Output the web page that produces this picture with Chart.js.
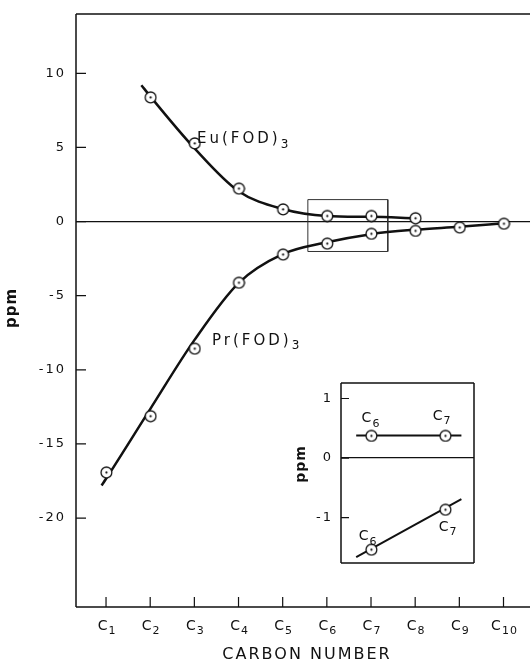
<!DOCTYPE html>
<html>
<head>
<meta charset="utf-8">
<script src="https://cdn.jsdelivr.net/npm/chart.js@4.4.0/dist/chart.umd.min.js"></script>
<style>
  html, body { margin: 0; padding: 0; background: #fff; }
  #wrap { position: relative; width: 530px; height: 662px; overflow: hidden; }
  #main { position: absolute; left: 0; top: 0; }
  #inset { position: absolute; left: 290px; top: 375px; }
</style>
</head>
<body>
<div id="wrap">
  <canvas id="main" width="530" height="662"></canvas>
  <canvas id="inset" width="190" height="195"></canvas>
</div>
<script>
// carbon positions and their tick labels (C1..C10)
const carbons = [1, 2, 3, 4, 5, 6, 7, 8, 9, 10];
const carbonSubs = ['1', '2', '3', '4', '5', '6', '7', '8', '9', '10'];
const yTicks = [-20, -15, -10, -5, 0, 5, 10];

// measured shifts, Eu(FOD)3
const euX = [2, 3, 4, 5, 6, 7, 8];
const euY = [8.4, 5.3, 2.25, 0.85, 0.4, 0.4, 0.25];
// measured shifts, Pr(FOD)3
const prX = carbons;
const prY = [-16.9, -13.1, -8.55, -4.1, -2.2, -1.46, -0.8, -0.6, -0.38, -0.12];

// drawn fit curves
const euCurveX = [1.8, 2, 3, 4, 5, 6, 7, 8];
const euCurveY = [9.2, 8.45, 4.95, 2.05, 0.85, 0.38, 0.32, 0.22];
const prCurveX = [0.9, 1, 2, 3, 4, 5, 6, 7, 8, 9, 10];
const prCurveY = [-17.8, -17.35, -12.65, -8.0, -4.15, -2.2, -1.4, -0.85, -0.55, -0.35, -0.12];

// rectangle that marks the region shown in the inset
const boxX = [5.57, 7.38, 7.38, 5.57, 5.57];
const boxY = [1.48, 1.48, -2.02, -2.02, 1.48];

// inset (C6, C7 enlarged)
const insetX = [6, 7];
const insetEuY = [0.38, 0.38];
const insetPrY = [-1.53, -0.86];
const insetEuLineX = [5.8, 7.22];
const insetEuLineY = [0.38, 0.38];
const insetPrLineX = [5.8, 7.22];
const insetPrLineY = [-1.66, -0.69];
const insetTicks = [-1, 0, 1];

// text labels anchored in data units
const curveNotes = [
  { text: 'Eu(FOD)', sub: '3', x: 3.06, y: 5.3 },
  { text: 'Pr(FOD)', sub: '3', x: 3.40, y: -8.3 }
];
const insetNotes = [
  { sub: '6', x: 6.0, y: 0.6 },
  { sub: '7', x: 6.96, y: 0.64 },
  { sub: '6', x: 5.96, y: -1.38 },
  { sub: '7', x: 7.04, y: -1.22 }
];

const INK = '#111';
const FONT = '"DejaVu Sans"';

function xy(xs, ys) {
  return xs.map((x, i) => ({ x: x, y: ys[i] }));
}

// open circle with a dot in the middle
function ringDot(r) {
  const c = document.createElement('canvas');
  c.width = 2 * r + 4;
  c.height = 2 * r + 4;
  const g = c.getContext('2d');
  const m = r + 2;
  g.fillStyle = '#fff';
  g.beginPath(); g.arc(m, m, r, 0, Math.PI * 2); g.fill();
  g.lineWidth = 1.3; g.strokeStyle = INK; g.stroke();
  g.fillStyle = INK;
  g.beginPath(); g.arc(m, m, 1.1, 0, Math.PI * 2); g.fill();
  return c;
}
const marker = ringDot(5.4);

function subText(ctx, base, sub, x, y, size, align, spacing) {
  ctx.save();
  ctx.letterSpacing = spacing + 'px';
  ctx.fillStyle = INK;
  ctx.textAlign = 'left';
  ctx.textBaseline = 'alphabetic';
  ctx.font = size + 'px ' + FONT;
  const w1 = ctx.measureText(base).width;
  ctx.font = Math.round(size * 0.78) + 'px ' + FONT;
  const w2 = ctx.measureText(sub).width;
  const x0 = align === 'center' ? x - (w1 + w2) / 2 : x;
  ctx.font = size + 'px ' + FONT;
  ctx.fillText(base, x0, y);
  ctx.font = Math.round(size * 0.78) + 'px ' + FONT;
  ctx.fillText(sub, x0 + w1, y + size * 0.32);
  ctx.restore();
}

function frameLines(ctx, a, sides) {
  ctx.save();
  ctx.strokeStyle = INK;
  ctx.lineWidth = 1.5;
  ctx.beginPath();
  if (sides.top) { ctx.moveTo(a.left, a.top); ctx.lineTo(a.right, a.top); }
  if (sides.left) { ctx.moveTo(a.left, a.top); ctx.lineTo(a.left, a.bottom); }
  if (sides.bottom) { ctx.moveTo(a.left, a.bottom); ctx.lineTo(a.right, a.bottom); }
  if (sides.right) { ctx.moveTo(a.right, a.top); ctx.lineTo(a.right, a.bottom); }
  ctx.stroke();
  ctx.restore();
}

// keep the y axis from reserving room above/below the plot for its labels
function fixWidth(w) {
  return s => {
    s.width = w;
    s.paddingTop = 0;
    s.paddingBottom = 0;
  };
}

const tickSpacing = {
  id: 'tickSpacing',
  beforeDraw(chart) { chart.ctx.letterSpacing = '2px'; },
  afterDraw(chart) { chart.ctx.letterSpacing = '0px'; }
};

const mainDecor = {
  id: 'mainDecor',
  afterDraw(chart) {
    const ctx = chart.ctx;
    const a = chart.chartArea;
    const xs = chart.scales.x;
    const ys = chart.scales.y;
    frameLines(ctx, a, { top: true, left: true, bottom: true });

    // inward tick marks
    ctx.save();
    ctx.strokeStyle = INK;
    ctx.lineWidth = 1.2;
    ctx.beginPath();
    yTicks.forEach(v => {
      const py = ys.getPixelForValue(v);
      ctx.moveTo(a.left, py); ctx.lineTo(a.left + 10, py);
    });
    carbons.forEach(v => {
      const px = xs.getPixelForValue(v);
      ctx.moveTo(px, a.bottom); ctx.lineTo(px, a.bottom - 10);
    });
    ctx.stroke();
    ctx.restore();

    // C1..C10 labels
    carbons.forEach((v, i) => {
      subText(ctx, 'C', carbonSubs[i], xs.getPixelForValue(v) + 1, a.bottom + 23, 14, 'center', 1);
    });

    // curve labels
    curveNotes.forEach(n => {
      subText(ctx, n.text, n.sub, xs.getPixelForValue(n.x), ys.getPixelForValue(n.y), 15, 'left', 3);
    });

    // axis titles
    ctx.save();
    ctx.fillStyle = INK;
    ctx.letterSpacing = '2px';
    ctx.font = '16px ' + FONT;
    ctx.textAlign = 'center';
    ctx.textBaseline = 'alphabetic';
    ctx.fillText('CARBON NUMBER', (a.left + a.right) / 2 + 4, 659);
    ctx.translate(12, 308);
    ctx.rotate(-Math.PI / 2);
    ctx.letterSpacing = '1px';
    ctx.font = 'bold 15px ' + FONT;
    ctx.textBaseline = 'middle';
    ctx.fillText('ppm', 0, 0);
    ctx.restore();
  }
};

new Chart(document.getElementById('main'), {
  type: 'line',
  data: {
    datasets: [
      { data: xy(euX, euY), showLine: false, pointStyle: marker, pointRadius: 6 },
      { data: xy(prX, prY), showLine: false, pointStyle: marker, pointRadius: 6 },
      { data: xy(euCurveX, euCurveY), borderColor: INK, borderWidth: 2.5, pointRadius: 0, cubicInterpolationMode: 'monotone' },
      { data: xy(prCurveX, prCurveY), borderColor: INK, borderWidth: 2.5, pointRadius: 0, cubicInterpolationMode: 'monotone' },
      { data: xy(boxX, boxY), borderColor: '#333', borderWidth: 1, pointRadius: 0, tension: 0 }
    ]
  },
  options: {
    responsive: false,
    animation: false,
    layout: { autoPadding: false, padding: { top: 14, right: 0, bottom: 0, left: 0 } },
    plugins: { legend: { display: false }, tooltip: { enabled: false } },
    scales: {
      x: {
        type: 'linear', min: 0.32, max: 10.6,
        afterBuildTicks: s => { s.ticks = carbons.map(v => ({ value: v })); },
        afterFit: s => { s.height = 55; },
        ticks: { display: false },
        grid: { display: false },
        border: { display: false }
      },
      y: {
        type: 'linear', min: -26, max: 14,
        afterBuildTicks: s => { s.ticks = yTicks.map(v => ({ value: v })); },
        afterFit: fixWidth(76),
        ticks: { padding: 10, color: INK, font: { family: 'DejaVu Sans', size: 13 } },
        grid: {
          drawTicks: false,
          lineWidth: 1.2,
          color: c => (c.tick && c.tick.value === 0 ? INK : 'rgba(0,0,0,0)')
        },
        border: { display: false }
      }
    }
  },
  plugins: [tickSpacing, mainDecor]
});

const insetDecor = {
  id: 'insetDecor',
  afterDraw(chart) {
    const ctx = chart.ctx;
    const a = chart.chartArea;
    const xs = chart.scales.x;
    const ys = chart.scales.y;
    frameLines(ctx, a, { top: true, left: true, bottom: true, right: true });
    ctx.save();
    ctx.strokeStyle = INK;
    ctx.lineWidth = 1.2;
    ctx.beginPath();
    insetTicks.forEach(v => {
      const py = ys.getPixelForValue(v);
      ctx.moveTo(a.left, py); ctx.lineTo(a.left + 8, py);
    });
    ctx.stroke();
    ctx.restore();

    insetNotes.forEach(n => {
      subText(ctx, 'C', n.sub, xs.getPixelForValue(n.x), ys.getPixelForValue(n.y), 14, 'center', 1);
    });

    ctx.save();
    ctx.fillStyle = INK;
    ctx.letterSpacing = '1px';
    ctx.translate(11, 89);
    ctx.rotate(-Math.PI / 2);
    ctx.font = 'bold 14px ' + FONT;
    ctx.textAlign = 'center';
    ctx.textBaseline = 'middle';
    ctx.fillText('ppm', 0, 0);
    ctx.restore();
  }
};

new Chart(document.getElementById('inset'), {
  type: 'line',
  data: {
    datasets: [
      { data: xy(insetX, insetEuY), showLine: false, pointStyle: marker, pointRadius: 6 },
      { data: xy(insetX, insetPrY), showLine: false, pointStyle: marker, pointRadius: 6 },
      { data: xy(insetEuLineX, insetEuLineY), borderColor: INK, borderWidth: 2, pointRadius: 0 },
      { data: xy(insetPrLineX, insetPrLineY), borderColor: INK, borderWidth: 2, pointRadius: 0 }
    ]
  },
  options: {
    responsive: false,
    animation: false,
    layout: { autoPadding: false, padding: { top: 8, right: 6, bottom: 7, left: 0 } },
    plugins: { legend: { display: false }, tooltip: { enabled: false } },
    scales: {
      x: { type: 'linear', display: false, min: 5.595, max: 7.39 },
      y: {
        type: 'linear', min: -1.76, max: 1.26,
        afterBuildTicks: s => { s.ticks = insetTicks.map(v => ({ value: v })); },
        afterFit: fixWidth(51),
        ticks: { padding: 8, color: INK, font: { family: 'DejaVu Sans', size: 13 } },
        grid: {
          drawTicks: false,
          lineWidth: 1.2,
          color: c => (c.tick && c.tick.value === 0 ? INK : 'rgba(0,0,0,0)')
        },
        border: { display: false }
      }
    }
  },
  plugins: [tickSpacing, insetDecor]
});
</script>
</body>
</html>
